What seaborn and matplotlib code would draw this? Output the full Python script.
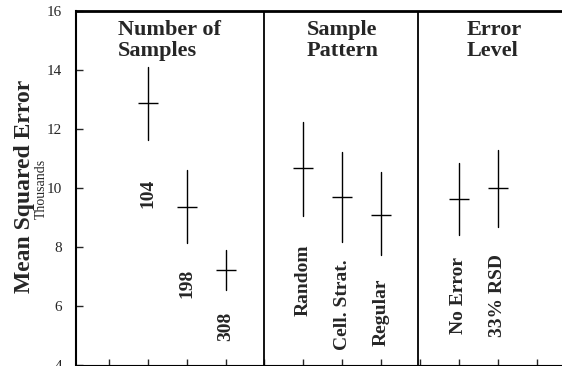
import pandas as pd
import numpy as np
import matplotlib.pyplot as plt
import seaborn as sns

# Mean squared error (thousands) by sampling factor
labels = ['104', '198', '308', 'Random', 'Cell. Strat.', 'Regular', 'No Error', '33% RSD']
positions = [2, 3, 4, 6, 7, 8, 10, 11]
means = [12.88, 9.36, 7.22, 10.68, 9.69, 9.08, 9.63, 10.0]
lows = [11.63, 8.14, 6.54, 9.05, 8.17, 7.73, 8.41, 8.68]
highs = [14.1, 10.61, 7.9, 12.24, 11.22, 10.54, 10.85, 11.29]
label_y = [9.83, 6.78, 5.32, 6.88, 6.03, 5.8, 6.34, 6.37]

groups = ['Number of\nSamples', 'Sample\nPattern', 'Error\nLevel']
group_x = [1.23, 6.09, 10.2]
separators = [5.0, 8.95]

# long table: low / mean / high per group so median = mean and 100% interval = range
rows = []
for p, lo, m, hi in zip(positions, lows, means, highs):
    for v in (lo, m, hi):
        rows.append({'pos': p, 'mse': v})
df = pd.DataFrame(rows)

sns.set_theme(style='white')
plt.rcParams['font.family'] = ['Liberation Serif', 'DejaVu Serif']

fig = plt.figure(figsize=(5.62, 3.66), dpi=100)
ax = fig.add_axes([0.135, 0.0027, 0.865, 0.9673])

sns.pointplot(data=df, x='pos', y='mse', native_scale=True, estimator='median',
              errorbar=('pi', 100), markers='_', linestyles='none', color='black',
              markersize=15, markeredgewidth=1.0, err_kws={'linewidth': 1.0}, ax=ax)

for sx in separators:
    ax.axvline(sx, color='black', linewidth=1.3)

for p, lab, ly in zip(positions, labels, label_y):
    ax.text(p, ly, lab, rotation=90, ha='center', va='center',
            fontsize=14, fontweight='bold')

for gx, g in zip(group_x, groups):
    ax.text(gx, 15.7, g, ha='left', va='top', fontsize=16, fontweight='bold',
            linespacing=1.05)

ax.set_xlim(0.152, 12.65)
ax.set_ylim(4, 16)
ax.set_xticks(range(1, 13))
ax.set_xticklabels([])
ax.set_yticks(range(4, 17, 2))
ax.set_xlabel('')
ax.set_ylabel('')
ax.tick_params(axis='y', direction='in', length=5, width=1, labelsize=11, pad=10, left=True)
ax.tick_params(axis='x', direction='inout', length=8, width=1, bottom=True)

for side in ['left', 'top', 'bottom']:
    ax.spines[side].set_color('black')
ax.spines['left'].set_linewidth(1.5)
ax.spines['top'].set_linewidth(2)
ax.spines['bottom'].set_linewidth(0.8)
ax.spines['right'].set_visible(False)

fig.text(0.044, 0.49, 'Mean Squared Error', rotation=90, ha='center', va='center',
         fontsize=17, fontweight='bold')
fig.text(0.073, 0.483, 'Thousands', rotation=90, ha='center', va='center', fontsize=10)

fig.savefig('out.png', dpi=100)
